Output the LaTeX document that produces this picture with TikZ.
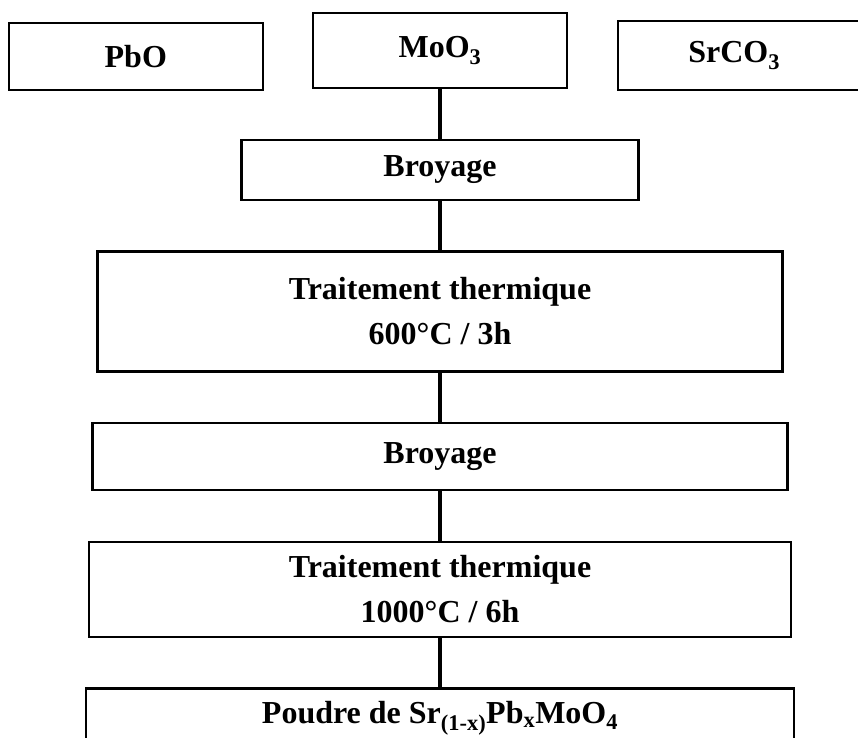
\documentclass[tikz,border=0pt]{standalone}
\usepackage{fontspec}
\setmainfont{Liberation Serif}
\usepackage{tikz}
\usetikzlibrary{positioning}
\tikzstyle{material} = [rectangle, minimum width=254pt, text centered, draw=black, line width=2.2pt, fill=white]
\tikzstyle{process}  = [rectangle, text centered, draw=black, line width=2.2pt, fill=white]
\tikzstyle{product}  = [rectangle, minimum width=708pt, minimum height=60pt, text centered, draw=black, line width=2.2pt, fill=white]
\tikzstyle{link}     = [line width=4pt]

\begin{document}
\begin{tikzpicture}[x=1pt, y=1pt, node distance=49.5pt, every node/.style={font=\fontsize{32}{45}\selectfont\bfseries, align=center, inner sep=0pt}]
    \useasboundingbox (0,0) rectangle (858,-737);
    \clip (0,0) rectangle (858,-737);

    \node (moo) [material, minimum height=75pt] at (440,-50.5) {MoO\textsubscript{3}};
    \node (pbo) [material, minimum height=67pt, left=48pt of moo.south west, anchor=south east, yshift=-2pt] {PbO};
    \node (srco) [material, minimum height=69pt, right=49pt of moo.south east, anchor=south west, yshift=-2pt] {\hspace*{-22pt}SrCO\textsubscript{3}};
    \node (broya) [process, minimum width=397pt, minimum height=60pt, below=of moo] {Broyage};
    \node (therma) [process, minimum width=685pt, minimum height=120pt, below=of broya] {Traitement thermique\\600°C / 3h};
    \node (broyb) [process, minimum width=695pt, minimum height=67pt, below=of therma] {Broyage};
    \node (thermb) [process, minimum width=702pt, minimum height=95pt, below=of broyb] {Traitement thermique\\1000°C / 6h};
    \node (poudre) [product, below=of thermb] {Poudre de Sr\textsubscript{(1-x)}Pb\textsubscript{x}MoO\textsubscript{4}};

    \draw[link] (moo) -- (broya);
    \draw[link] (broya) -- (therma);
    \draw[link] (therma) -- (broyb);
    \draw[link] (broyb) -- (thermb);
    \draw[link] (thermb) -- (poudre);
\end{tikzpicture}
\end{document}
